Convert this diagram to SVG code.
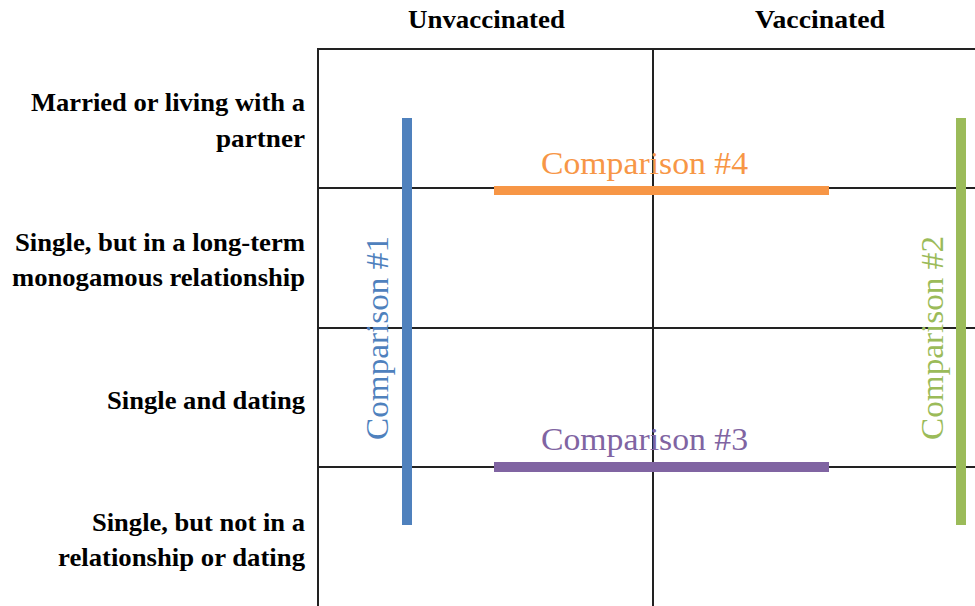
<svg xmlns="http://www.w3.org/2000/svg" width="975" height="606" viewBox="0 0 975 606">
<style>
.grid{stroke:#222;stroke-width:2;fill:none}
.hdr{font-family:"Liberation Serif",serif;font-weight:bold;font-size:25px;fill:#000}
.row{font-family:"Liberation Serif",serif;font-weight:bold;font-size:25px;fill:#000;text-anchor:end}
.cmp{font-family:"Liberation Serif",serif;font-size:32px}
</style>
<rect width="975" height="606" fill="#fff"/>
<g id="grid">
<line class="grid" x1="318" y1="49" x2="975" y2="49"/>
<line class="grid" x1="318" y1="48" x2="318" y2="606"/>
<line class="grid" x1="653" y1="49" x2="653" y2="606"/>
<line class="grid" x1="318" y1="188" x2="975" y2="188"/>
<line class="grid" x1="318" y1="328" x2="975" y2="328"/>
<line class="grid" x1="318" y1="467" x2="975" y2="467"/>
</g>
<g id="headers">
<text class="hdr" x="408" y="28" textLength="157" lengthAdjust="spacingAndGlyphs">Unvaccinated</text>
<text class="hdr" x="755" y="28" textLength="130" lengthAdjust="spacingAndGlyphs">Vaccinated</text>
</g>
<g id="rows">
<text class="row" x="305" y="111" textLength="274" lengthAdjust="spacingAndGlyphs">Married or living  with a</text>
<text class="row" x="305" y="147" textLength="89" lengthAdjust="spacingAndGlyphs">partner</text>
<text class="row" x="305" y="251" textLength="290" lengthAdjust="spacingAndGlyphs">Single, but in a long-term</text>
<text class="row" x="305" y="286" textLength="293" lengthAdjust="spacingAndGlyphs">monogamous relationship</text>
<text class="row" x="305" y="409" textLength="198" lengthAdjust="spacingAndGlyphs">Single and dating</text>
<text class="row" x="305" y="531" textLength="213" lengthAdjust="spacingAndGlyphs">Single, but not in a</text>
<text class="row" x="305" y="566" textLength="247" lengthAdjust="spacingAndGlyphs">relationship or dating</text>
</g>
<g id="connectors">
<g id="comparison1">
<rect x="402" y="118" width="10" height="407" fill="#4F81BD"/>
<text class="cmp" fill="#4F81BD" transform="translate(388,440) rotate(-90)" textLength="204" lengthAdjust="spacingAndGlyphs">Comparison  #1</text>
</g>
<g id="comparison2">
<rect x="956" y="118" width="10" height="407" fill="#9BBB59"/>
<text class="cmp" fill="#9BBB59" transform="translate(943,440) rotate(-90)" textLength="204" lengthAdjust="spacingAndGlyphs">Comparison  #2</text>
</g>
<g id="comparison3">
<rect x="494" y="462" width="335" height="10" fill="#8064A2"/>
<text class="cmp" fill="#8064A2" x="541" y="450" textLength="207" lengthAdjust="spacingAndGlyphs">Comparison  #3</text>
</g>
<g id="comparison4">
<rect x="494" y="186" width="335" height="9" fill="#F79646"/>
<text class="cmp" fill="#F79646" x="541" y="174" textLength="207" lengthAdjust="spacingAndGlyphs">Comparison  #4</text>
</g>
</g>
</svg>
